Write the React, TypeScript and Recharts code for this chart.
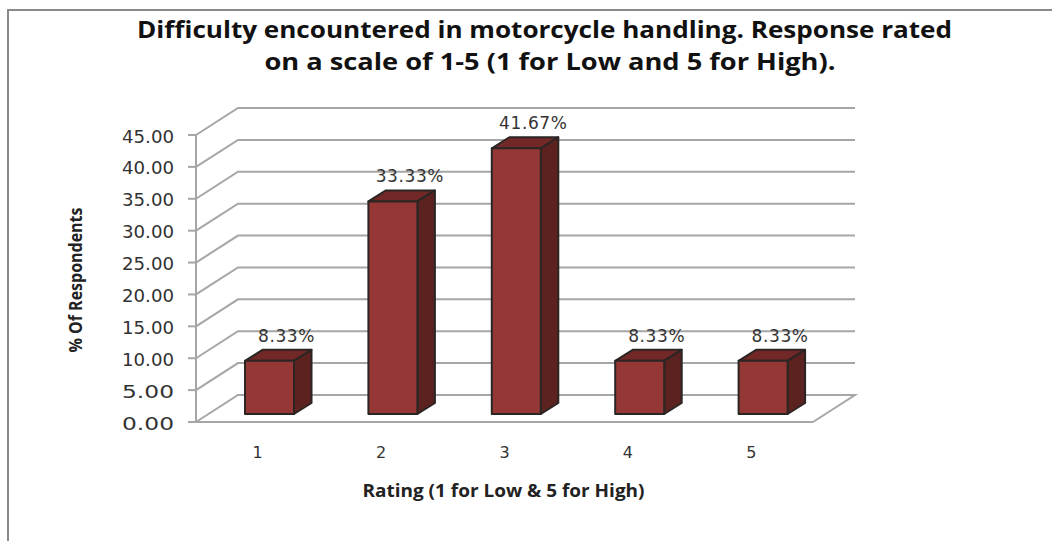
import { Bar, BarChart, CartesianGrid, LabelList, XAxis, YAxis } from "recharts";

const ratings = ["1", "2", "3", "4", "5"];
const respondents = [8.33, 33.33, 41.67, 8.33, 8.33];
const yTicks = [0, 5, 10, 15, 20, 25, 30, 35, 40, 45];

const chartData = ratings.map((rating, i) => ({ rating, respondents: respondents[i] }));

const GRID = "#a6a6a6";
const TEXT = "#333333";
const TICK_FONT = "'DejaVu Sans', sans-serif";
const TITLE_FONT = "'Open Sans', sans-serif";

// how far the back wall sits from the front plane
const WALL_DX = 42;
const WALL_DY = -27;

function WallLine(props: any) {
  const { x1, x2, y1, y, height } = props;
  const isFloor = Math.abs(y1 - (y + height)) < 1;
  const points = [
    [x1, y1],
    [x1 + WALL_DX, y1 + WALL_DY],
    [x2 + WALL_DX, y1 + WALL_DY],
  ];
  if (isFloor) points.push([x2, y1]);
  return (
    <polyline
      key={props.key ?? y1}
      points={points.map((p) => p.join(",")).join(" ")}
      fill="none"
      stroke={GRID}
      strokeWidth={2}
    />
  );
}

function Box3D(props: any) {
  const { x, y, width, height } = props;
  const left = x + 12;
  const top = y - 8;
  const right = left + width;
  const bottom = top + height;
  const dx = 17.5;
  const dy = -11;
  return (
    <g stroke="#2b2624" strokeWidth={2} strokeLinejoin="round">
      <polygon
        points={`${left},${top} ${left + dx},${top + dy} ${right + dx},${top + dy} ${right},${top}`}
        fill="#722826"
      />
      <polygon
        points={`${right},${top} ${right + dx},${top + dy} ${right + dx},${bottom + dy} ${right},${bottom}`}
        fill="#5c2220"
      />
      <rect x={left} y={top} width={width} height={height} fill="#953735" />
    </g>
  );
}

function ValueLabel(props: any) {
  const { x, y, width, value } = props;
  return (
    <text
      x={x + width / 2 + 29}
      y={y - 27}
      textAnchor="middle"
      fontFamily={TICK_FONT}
      fontSize={17}
      letterSpacing={0.6}
      fill={TEXT}
    >
      {`${value.toFixed(2)}%`}
    </text>
  );
}

function YTick(props: any) {
  const { x, y, payload } = props;
  return (
    <text
      x={x}
      y={y + 7.5}
      textAnchor="end"
      fontFamily={TICK_FONT}
      fontSize={17}
      fill={TEXT}
      textLength={52}
      lengthAdjust="spacingAndGlyphs"
    >
      {payload.value.toFixed(2)}
    </text>
  );
}

export default function App() {
  return (
    <div style={{ position: "absolute", left: 0, top: 0, width: 1052, height: 541, background: "#fff" }}>
      <div
        style={{
          position: "absolute",
          left: 7,
          top: 9,
          width: 1045,
          height: 532,
          boxSizing: "border-box",
          borderTop: "2px solid #8a8a8a",
          borderLeft: "2px solid #8a8a8a",
        }}
      />
      <div style={{ position: "absolute", left: 0, top: 0 }}>
        <BarChart
          width={1052}
          height={541}
          data={chartData}
          margin={{ top: 135, right: 239, bottom: 89, left: 136 }}
        >
          <CartesianGrid vertical={false} horizontal={WallLine} />
          <XAxis
            dataKey="rating"
            height={30}
            tickLine={false}
            tickMargin={19}
            stroke={GRID}
            strokeWidth={2}
            tick={{ fontFamily: TICK_FONT, fontSize: 16, fill: TEXT }}
          />
          <YAxis
            width={60}
            domain={[0, 45]}
            ticks={yTicks}
            interval={0}
            tickSize={8}
            tickMargin={14}
            stroke={GRID}
            strokeWidth={2}
            tick={YTick}
          />
          <Bar
            dataKey="respondents"
            barSize={49}
            shape={Box3D}
            isAnimationActive={false}
          >
            <LabelList dataKey="respondents" content={ValueLabel} />
          </Bar>
          <text
            x={544.5}
            y={38}
            textAnchor="middle"
            fontFamily={TITLE_FONT}
            fontWeight={700}
            fontSize={24}
            fill="#111"
            textLength={815}
            lengthAdjust="spacingAndGlyphs"
          >
            Difficulty encountered in motorcycle handling. Response rated
          </text>
          <text
            x={550}
            y={70}
            textAnchor="middle"
            fontFamily={TITLE_FONT}
            fontWeight={700}
            fontSize={24}
            fill="#111"
            textLength={571}
            lengthAdjust="spacingAndGlyphs"
          >
            on a scale of 1-5 (1 for Low and 5 for High).
          </text>
          <text
            x={503.5}
            y={497}
            textAnchor="middle"
            fontFamily={TITLE_FONT}
            fontWeight={700}
            fontSize={17}
            fill="#222"
            textLength={282}
            lengthAdjust="spacingAndGlyphs"
          >
            {"Rating (1 for Low & 5 for High)"}
          </text>
          <text
            transform="translate(82 280) rotate(-90)"
            textAnchor="middle"
            fontFamily={TITLE_FONT}
            fontWeight={700}
            fontSize={18}
            fill="#222"
            textLength={145}
            lengthAdjust="spacingAndGlyphs"
          >
            % Of Respondents
          </text>
        </BarChart>
      </div>
    </div>
  );
}
